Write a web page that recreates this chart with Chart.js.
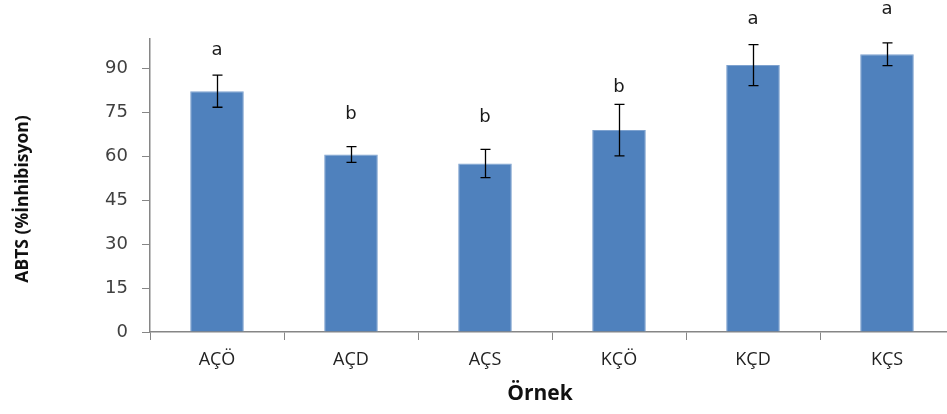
<!DOCTYPE html>
<html>
<head>
<meta charset="utf-8">
<script src="https://cdn.jsdelivr.net/npm/chart.js@4/dist/chart.umd.min.js"></script>
<style>
  html, body { margin: 0; padding: 0; background: #fff; overflow: hidden; }
  #wrap { width: 960px; height: 414px; }
</style>
</head>
<body>
<div id="wrap"><canvas id="c" width="960" height="414"></canvas></div>
<script>
// Sample groups and measured ABTS radical inhibition (%)
const categories = ['AÇÖ', 'AÇD', 'AÇS', 'KÇÖ', 'KÇD', 'KÇS'];
const means      = [82.2, 60.6, 57.5, 68.9, 91.1, 94.8];
const errors     = [5.5, 2.7, 4.8, 8.8, 7.0, 3.9];
// Significance letters and the height (in axis units) they sit at
const groupLetters = ['a', 'b', 'b', 'b', 'a', 'a'];
const letterLevels = [96.1, 74.3, 73.3, 83.5, 106.7, 110.0];
const yTicks = [0, 15, 30, 45, 60, 75, 90];
const xTitle = 'Örnek';
const yTitle = 'ABTS (%İnhibisyon)';

const axisColor = '#868686';
const textColor = '#404040';
const titleFont = 'bold 17.5px "Open Sans", sans-serif';

// Draws ± error whiskers with caps over each bar
const errorBarsPlugin = {
  id: 'errorBars',
  afterDatasetsDraw(chart) {
    const { ctx, scales: { x, y } } = chart;
    ctx.save();
    ctx.strokeStyle = '#000';
    ctx.lineWidth = 1.3;
    means.forEach((m, i) => {
      const cx = Math.round(x.getPixelForValue(i)) + 0.5;
      const top = y.getPixelForValue(m + errors[i]);
      const bot = y.getPixelForValue(m - errors[i]);
      ctx.beginPath();
      ctx.moveTo(cx, top); ctx.lineTo(cx, bot);
      ctx.moveTo(cx - 5, top); ctx.lineTo(cx + 5, top);
      ctx.moveTo(cx - 5, bot); ctx.lineTo(cx + 5, bot);
      ctx.stroke();
    });
    ctx.restore();
  }
};

// Writes the group letters above each bar
const lettersPlugin = {
  id: 'groupLetters',
  afterDatasetsDraw(chart) {
    const { ctx, scales: { x, y } } = chart;
    ctx.save();
    ctx.fillStyle = '#1a1a1a';
    ctx.font = '18px "DejaVu Sans", sans-serif';
    ctx.textAlign = 'center';
    ctx.textBaseline = 'middle';
    groupLetters.forEach((t, i) => {
      ctx.fillText(t, x.getPixelForValue(i), y.getPixelForValue(letterLevels[i]));
    });
    ctx.restore();
  }
};

// Axis titles, placed relative to the axes
const axisTitlesPlugin = {
  id: 'axisTitles',
  afterDraw(chart) {
    const { ctx, chartArea } = chart;
    ctx.save();
    ctx.fillStyle = '#111';
    ctx.textAlign = 'center';
    ctx.textBaseline = 'middle';
    ctx.font = 'bold 21px "Open Sans", sans-serif';
    ctx.fillText(xTitle, chartArea.left + 390, chartArea.bottom + 62);
    ctx.font = titleFont;
    ctx.translate(chartArea.left - 127, chartArea.top + 160);
    ctx.rotate(-Math.PI / 2);
    ctx.fillText(yTitle, 0, 0);
    ctx.restore();
  }
};

new Chart(document.getElementById('c'), {
  type: 'bar',
  data: {
    labels: categories,
    datasets: [{
      data: means,
      backgroundColor: '#4F81BD',
      borderColor: '#7EA2CF',
      borderWidth: { left: 1, right: 1, top: 1, bottom: 0 },
      barPercentage: 0.4,
      categoryPercentage: 1.0
    }]
  },
  options: {
    responsive: false,
    animation: false,
    devicePixelRatio: 1,
    layout: { padding: { left: 0, right: 6, top: 39, bottom: 0 } },
    plugins: {
      legend: { display: false },
      tooltip: { enabled: false }
    },
    scales: {
      x: {
        offset: true,
        grid: {
          offset: true,
          drawOnChartArea: false,
          drawTicks: true,
          tickLength: 8,
          color: axisColor
        },
        border: { color: axisColor, width: 1.5 },
        ticks: {
          color: '#222',
          padding: 9,
          font: { family: '"Open Sans", sans-serif', size: 18 }
        },
        afterFit(scale) { scale.height = 82; }
      },
      y: {
        min: 0,
        max: 100,
        afterBuildTicks(scale) { scale.ticks = yTicks.map(v => ({ value: v })); },
        grid: {
          drawOnChartArea: false,
          drawTicks: true,
          tickLength: 8,
          color: axisColor
        },
        border: { color: axisColor, width: 1.5 },
        ticks: {
          color: textColor,
          padding: 14,
          font: { family: '"DejaVu Sans", sans-serif', size: 18 }
        },
        afterFit(scale) { scale.width = 150; }
      }
    }
  },
  plugins: [errorBarsPlugin, lettersPlugin, axisTitlesPlugin]
});
</script>
</body>
</html>
